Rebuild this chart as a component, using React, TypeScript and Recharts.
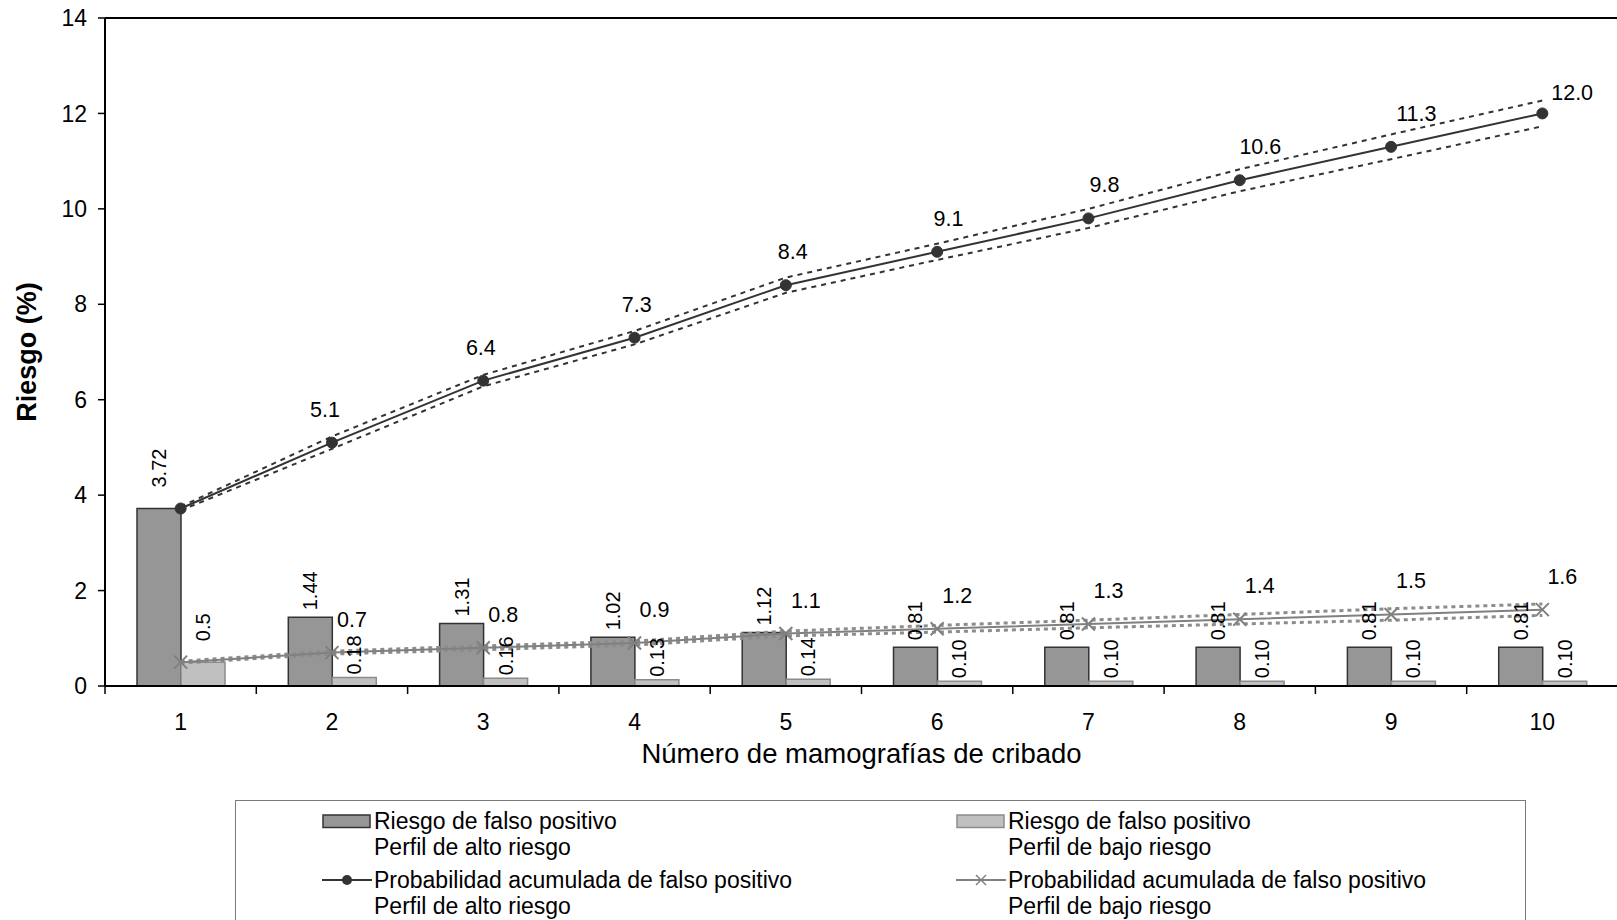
import React from "react";
import {
  ComposedChart,
  Bar,
  Line,
  XAxis,
  YAxis,
  Label,
  LabelList,
  Legend,
  ReferenceLine,
} from "recharts";

const FONT = '"Liberation Sans", Arial, Helvetica, sans-serif';

// screening round (x axis)
const rounds = ["1", "2", "3", "4", "5", "6", "7", "8", "9", "10"];

// per-round false positive risk (bars)
const highRiskBar = [3.72, 1.44, 1.31, 1.02, 1.12, 0.81, 0.81, 0.81, 0.81, 0.81];
const lowRiskBar = [0.5, 0.18, 0.16, 0.13, 0.14, 0.1, 0.1, 0.1, 0.1, 0.1];
const lowRiskBarText = ["0.5", "0.18", "0.16", "0.13", "0.14", "0.10", "0.10", "0.10", "0.10", "0.10"];

// cumulative probability + dotted bounds
const highCum = [3.72, 5.1, 6.4, 7.3, 8.4, 9.1, 9.8, 10.6, 11.3, 12.0];
const highCumUpper = [3.76, 5.23, 6.52, 7.44, 8.56, 9.27, 10.0, 10.83, 11.56, 12.27];
const highCumLower = [3.68, 4.97, 6.28, 7.16, 8.24, 8.93, 9.6, 10.37, 11.04, 11.73];
const lowCum = [0.5, 0.7, 0.8, 0.9, 1.1, 1.2, 1.3, 1.4, 1.5, 1.6];
const lowCumUpper = [0.52, 0.73, 0.84, 0.94, 1.15, 1.27, 1.38, 1.5, 1.62, 1.72];
const lowCumLower = [0.48, 0.67, 0.76, 0.86, 1.05, 1.13, 1.22, 1.3, 1.38, 1.48];

const yTicks = [0, 2, 4, 6, 8, 10, 12, 14];

const legendLabels = [
  ["Riesgo de falso positivo", "Perfil de alto riesgo"],
  ["Riesgo de falso positivo", "Perfil de bajo riesgo"],
  ["Probabilidad acumulada de falso positivo", "Perfil de alto riesgo"],
  ["Probabilidad acumulada de falso positivo", "Perfil de bajo riesgo"],
];

const data = rounds.map((n, i) => ({
  n,
  highBar: highRiskBar[i],
  lowBar: lowRiskBar[i],
  highCum: highCum[i],
  highUp: highCumUpper[i],
  highLo: highCumLower[i],
  lowCum: lowCum[i],
  lowUp: lowCumUpper[i],
  lowLo: lowCumLower[i],
}));

const vb = (p: any) => p.viewBox || { x: p.x, y: p.y, width: p.width, height: p.height };

function barLabel(gapFirst: number, gap: number, fmt: (v: any, i: number) => string) {
  return (p: any) => {
    const box = vb(p);
    if (!box || box.x == null) return null;
    const idx = p.index ?? 0;
    const cx = box.x + box.width / 2;
    const top = Math.min(box.y, box.y + box.height) - (idx === 0 ? gapFirst : gap);
    return (
      <text
        x={cx}
        y={top}
        transform={`rotate(-90, ${cx}, ${top})`}
        textAnchor="start"
        dominantBaseline="central"
        fontFamily={FONT}
        fontSize={20}
        fill="#000"
      >
        {fmt(p.value, idx)}
      </text>
    );
  };
}

function lineLabel(dxFn: (i: number) => number, dyFn: (i: number) => number) {
  return (p: any) => {
    const box = vb(p);
    const idx = p.index ?? 0;
    if (!box || box.x == null || idx === 0) return null;
    return (
      <text
        x={box.x + dxFn(idx)}
        y={box.y + dyFn(idx)}
        textAnchor="middle"
        fontFamily={FONT}
        fontSize={21.5}
        fill="#000"
      >
        {Number(p.value).toFixed(1)}
      </text>
    );
  };
}

const CrossDot = (p: any) => {
  const { cx, cy, index } = p;
  if (cx == null || cy == null) return <g key={`c-${index}`} />;
  const s = 6.5;
  return (
    <g key={`c-${index}`}>
      <line x1={cx - s} y1={cy - s} x2={cx + s} y2={cy + s} stroke="#808080" strokeWidth={2} />
      <line x1={cx - s} y1={cy + s} x2={cx + s} y2={cy - s} stroke="#808080" strokeWidth={2} />
    </g>
  );
};

const XTick = (p: any) => {
  const { x, y, payload, index, visibleTicksCount } = p;
  const half = payload?.offset ?? 75.65;
  const last = index === visibleTicksCount - 1;
  return (
    <g>
      <line x1={x - half} x2={x - half} y1={y} y2={y + 8} stroke="#000" strokeWidth={1.5} />
      {last && <line x1={x + half} x2={x + half} y1={y} y2={y + 8} stroke="#000" strokeWidth={1.5} />}
      <text x={x} y={y + 44} textAnchor="middle" fontFamily={FONT} fontSize={23} fill="#000">
        {payload.value}
      </text>
    </g>
  );
};

const XTitle = (p: any) => {
  const v = p.viewBox;
  return (
    <text x={v.x + v.width / 2} y={v.y + 77} textAnchor="middle" fontFamily={FONT} fontSize={27.5} fill="#000">
      Número de mamografías de cribado
    </text>
  );
};

const YTitle = (p: any) => {
  const v = p.viewBox;
  const x = v.x + 36;
  const y = v.y + v.height / 2;
  return (
    <text
      x={x}
      y={y}
      transform={`rotate(-90, ${x}, ${y})`}
      textAnchor="middle"
      fontFamily={FONT}
      fontSize={27}
      fontWeight="bold"
      fill="#000"
    >
      Riesgo (%)
    </text>
  );
};

function LegendIcon({ kind }: { kind: number }) {
  if (kind === 0 || kind === 1) {
    return (
      <svg width={50} height={26} style={{ position: "absolute", left: 0, top: 0 }}>
        <rect
          x={1}
          y={7}
          width={47}
          height={12.5}
          fill={kind === 0 ? "#969696" : "#c0c0c0"}
          stroke={kind === 0 ? "#333" : "#8c8c8c"}
          strokeWidth={1.5}
        />
      </svg>
    );
  }
  const c = kind === 2 ? "#333" : "#808080";
  return (
    <svg width={50} height={26} style={{ position: "absolute", left: 0, top: 0 }}>
      <line x1={0} x2={50} y1={13} y2={13} stroke={c} strokeWidth={2} />
      {kind === 2 ? (
        <circle cx={25} cy={13} r={5} fill={c} />
      ) : (
        <g stroke={c} strokeWidth={1.5}>
          <line x1={20} y1={8} x2={30} y2={18} />
          <line x1={20} y1={18} x2={30} y2={8} />
        </g>
      )}
    </svg>
  );
}

const legendPos = [
  { left: 86, top: 7 },
  { left: 720, top: 7 },
  { left: 86, top: 66 },
  { left: 720, top: 66 },
];

const LegendBox = () => (
  <div
    style={{
      position: "relative",
      width: 1291,
      height: 130,
      boxSizing: "border-box",
      border: "1.5px solid #7a7a7a",
      background: "#fff",
      fontFamily: FONT,
      fontSize: 23,
      lineHeight: "26px",
      color: "#000",
    }}
  >
    {legendLabels.map((lines, i) => (
      <div key={i} style={{ position: "absolute", left: legendPos[i].left, top: legendPos[i].top }}>
        <LegendIcon kind={i} />
        <div style={{ marginLeft: 52, whiteSpace: "nowrap" }}>
          {lines.map((t) => (
            <div key={t}>{t}</div>
          ))}
        </div>
      </div>
    ))}
  </div>
);

export default function App() {
  return (
    <div
      style={{
        position: "absolute",
        left: 0,
        top: 0,
        width: 1617,
        height: 920,
        overflow: "hidden",
        background: "#fff",
      }}
    >
      <ComposedChart
        width={1625}
        height={920}
        data={data}
        margin={{ top: 18, right: 7, left: 0, bottom: 0 }}
        barGap={0}
      >
        <XAxis
          dataKey="n"
          height={104}
          tickSize={0}
          tickMargin={0}
          tick={<XTick />}
          tickLine={false}
          axisLine={{ stroke: "#000", strokeWidth: 2 }}
          interval={0}
        >
          <Label content={XTitle} />
        </XAxis>
        <YAxis
          width={105}
          domain={[0, 14]}
          ticks={yTicks}
          interval={0}
          tickSize={7}
          tickMargin={11}
          tickLine={{ stroke: "#000", strokeWidth: 1.5 }}
          axisLine={{ stroke: "#000", strokeWidth: 2 }}
          tick={{ fontFamily: FONT, fontSize: 23, fill: "#000" }}
        >
          <Label content={YTitle} />
        </YAxis>
        <ReferenceLine y={14} stroke="#000" strokeWidth={2} />
        <Legend content={<LegendBox />} wrapperStyle={{ left: 235, top: 800, width: 1291, height: 130 }} />

        <Bar dataKey="highBar" barSize={44} fill="#969696" stroke="#333" strokeWidth={1.5} isAnimationActive={false}>
          <LabelList dataKey="highBar" content={barLabel(21, 7, (v) => Number(v).toFixed(2))} />
        </Bar>
        <Bar dataKey="lowBar" barSize={44} fill="#c0c0c0" stroke="#8c8c8c" strokeWidth={1.5} isAnimationActive={false}>
          <LabelList dataKey="lowBar" content={barLabel(21, 3, (_v, i) => lowRiskBarText[i])} />
        </Bar>

        <Line dataKey="highUp" stroke="#333" strokeWidth={2} strokeDasharray="5 5" dot={false} activeDot={false} isAnimationActive={false} />
        <Line dataKey="highLo" stroke="#333" strokeWidth={2} strokeDasharray="5 5" dot={false} activeDot={false} isAnimationActive={false} />
        <Line dataKey="lowUp" stroke="#8c8c8c" strokeWidth={3} strokeDasharray="4 4" dot={false} activeDot={false} isAnimationActive={false} />
        <Line dataKey="lowLo" stroke="#8c8c8c" strokeWidth={3} strokeDasharray="4 4" dot={false} activeDot={false} isAnimationActive={false} />

        <Line
          dataKey="highCum"
          stroke="#333"
          strokeWidth={2}
          dot={{ r: 5.5, fill: "#333", stroke: "#333", strokeWidth: 1 }}
          activeDot={false}
          isAnimationActive={false}
        >
          <LabelList
            dataKey="highCum"
            content={lineLabel(
              (i) => -7 + 4.6 * (i - 1),
              (i) => (i === highCum.length - 1 ? -13 : -26)
            )}
          />
        </Line>
        <Line
          dataKey="lowCum"
          stroke="#808080"
          strokeWidth={2}
          dot={CrossDot}
          activeDot={false}
          isAnimationActive={false}
        >
          <LabelList dataKey="lowCum" content={lineLabel(() => 20, () => -26)} />
        </Line>
      </ComposedChart>
    </div>
  );
}
